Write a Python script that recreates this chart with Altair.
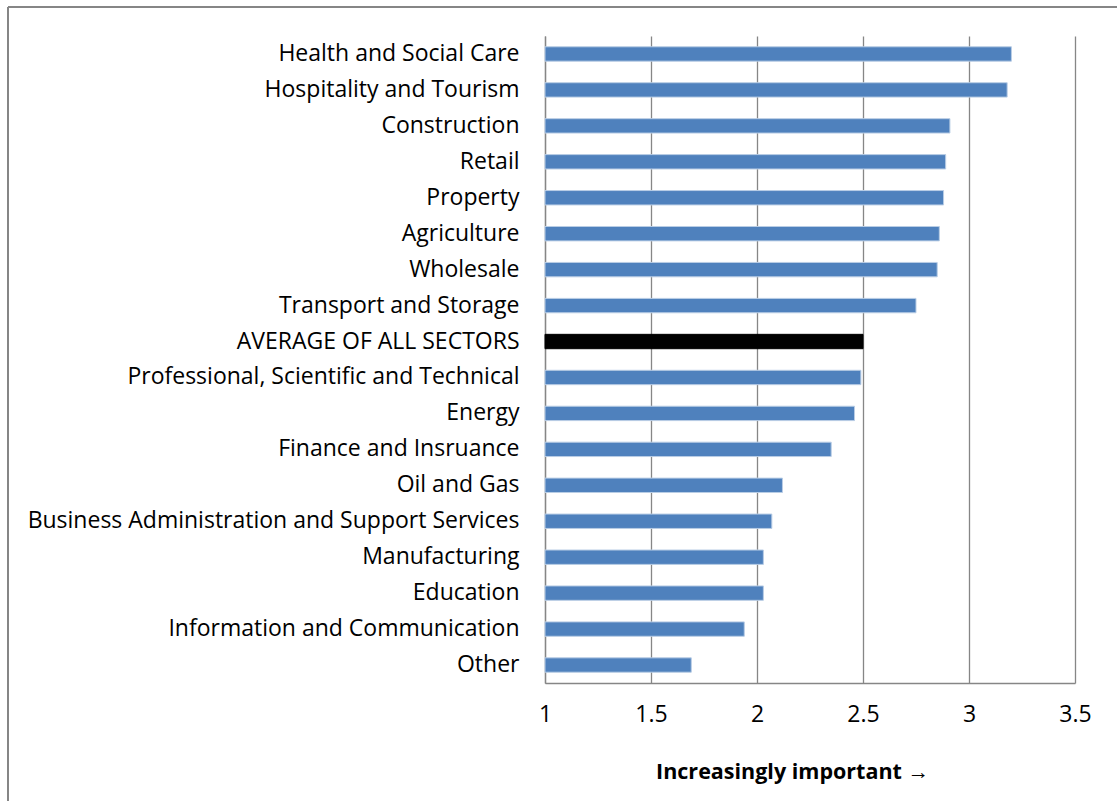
import altair as alt
import pandas as pd

sectors = [
    "Health and Social Care",
    "Hospitality and Tourism",
    "Construction",
    "Retail",
    "Property ",
    "Agriculture ",
    "Wholesale",
    "Transport and Storage",
    "AVERAGE OF ALL SECTORS",
    "Professional, Scientific and Technical",
    "Energy",
    "Finance and Insruance ",
    "Oil and Gas",
    "Business Administration and Support Services",
    "Manufacturing",
    "Education",
    "Information and Communication",
    "Other",
]
scores = [3.20, 3.18, 2.91, 2.89, 2.88, 2.86, 2.85, 2.75, 2.50, 2.49, 2.46,
          2.35, 2.12, 2.07, 2.03, 2.03, 1.94, 1.69]
kinds = ["sector"] * 8 + ["average"] + ["sector"] * 9
x_ticks = [1, 1.5, 2, 2.5, 3, 3.5]

df = pd.DataFrame({"sector": sectors, "score": scores, "kind": kinds})
df["base"] = 1.0

FONT = "Open Sans"
GRID = "#868686"

bars = alt.Chart(df).mark_bar(strokeWidth=1).encode(
    y=alt.Y(
        "sector:N",
        sort=sectors,
        scale=alt.Scale(paddingInner=0.6, paddingOuter=0.3),
        axis=alt.Axis(
            title=None,
            ticks=False,
            domain=True,
            domainColor=GRID,
            domainWidth=1.3,
            labelFont=FONT,
            labelFontSize=23,
            labelColor="#000000",
            labelPadding=26,
            labelLimit=600,
            grid=False,
        ),
    ),
    x=alt.X(
        "score:Q",
        scale=alt.Scale(domain=[1, 3.5], zero=False, nice=False),
        axis=alt.Axis(
            values=x_ticks,
            format="~g",
            title="Increasingly important \u2192",
            titleFont=FONT,
            titleFontSize=21.5,
            titleFontWeight="bold",
            titleColor="#000000",
            titleX=247,
            titleY=89,
            titleAlign="center",
            titleBaseline="middle",
            ticks=False,
            domain=True,
            domainColor=GRID,
            domainWidth=1.3,
            grid=True,
            gridColor=GRID,
            gridWidth=1.3,
            labelFont=FONT,
            labelFontSize=23,
            labelColor="#000000",
            labelPadding=20,
            labelFlush=False,
        ),
    ),
    x2="base:Q",
    color=alt.Color(
        "kind:N",
        scale=alt.Scale(domain=["sector", "average"], range=["#4F81BD", "#000000"]),
        legend=None,
    ),
    stroke=alt.Stroke(
        "kind:N",
        scale=alt.Scale(domain=["sector", "average"], range=["#B9CDE5", "#000000"]),
        legend=None,
    ),
)

frame_v = alt.Chart(df).mark_rule(color=GRID, strokeWidth=1.2).encode(
    x=alt.value(-537), y=alt.value(-29), y2=alt.value(770)
)
frame_h = alt.Chart(df).mark_rule(color=GRID, strokeWidth=1.2).encode(
    y=alt.value(-29), x=alt.value(-537), x2=alt.value(580)
)

chart = alt.layer(bars, frame_v, frame_h).properties(
    width=530,
    height=647,
    autosize=alt.AutoSizeParams(type="none"),
    padding={"left": 545, "top": 36, "right": 42, "bottom": 118},
    background="#ffffff",
).configure_view(stroke=None)

chart.save("out.html", embed_options={"renderer": "svg", "actions": False})
